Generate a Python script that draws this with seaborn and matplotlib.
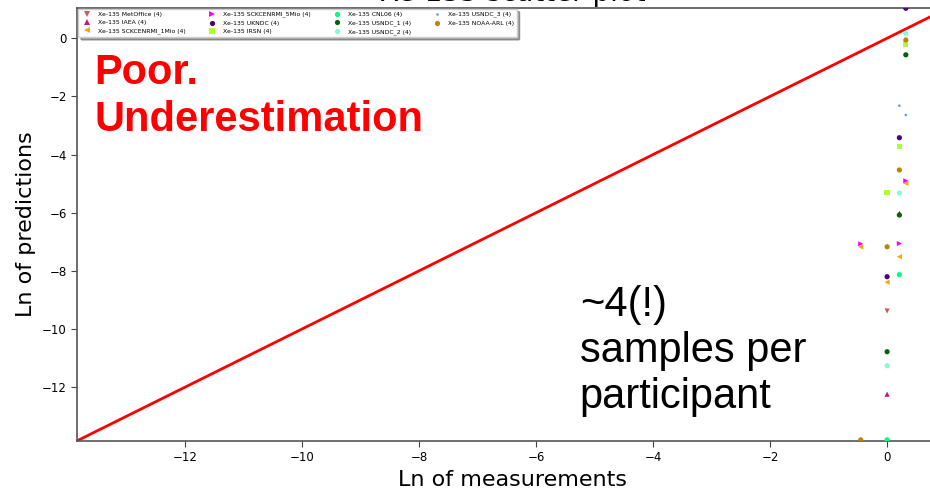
import numpy as np
import matplotlib
matplotlib.use('Agg')
import matplotlib.pyplot as plt
import pandas as pd
import seaborn as sns

# participants (legend order), marker and colour per participant
participants = ['Xe-135 MetOffice (4)', 'Xe-135 IAEA (4)', 'Xe-135 SCKCENRMI_1Mio (4)',
                'Xe-135 SCKCENRMI_5Mio (4)', 'Xe-135 UKNDC (4)', 'Xe-135 IRSN (4)',
                'Xe-135 CNL06 (4)', 'Xe-135 USNDC_1 (4)', 'Xe-135 USNDC_2 (4)',
                'Xe-135 USNDC_3 (4)', 'Xe-135 NOAA-ARL (4)']
markers = ['v', '^', '<', '>', 'o', 's', 'o', 'o', 'o', '.', 'o']
colors = ['indianred', 'mediumvioletred', 'orange', 'magenta', 'indigo', 'greenyellow',
          'springgreen', 'darkgreen', 'aquamarine', 'cornflowerblue', 'darkgoldenrod']

meas = [
    [0.0],
    [0.21, 0.0],
    [0.32, -0.45, 0.21, 0.0],
    [0.32, -0.45, 0.21],
    [0.32, 0.21, 0.0],
    [0.32, 0.21, 0.0],
    [0.21, 0.0],
    [0.32, 0.21, 0.0],
    [0.32, 0.21, 0.0],
    [0.21, 0.32],
    [0.32, 0.21, 0.0, -0.45],
]
pred = [
    [-9.38],
    [-6.02, -12.24],
    [-4.99, -7.18, -7.51, -8.39],
    [-4.90, -7.07, -7.06],
    [1.03, -3.42, -8.20],
    [-0.20, -3.73, -5.30],
    [-8.13, -13.81],
    [-0.57, -6.08, -10.78],
    [0.17, -5.32, -11.26],
    [-2.32, -2.64],
    [-0.06, -4.53, -7.17, -13.81],
]

lims = [-13.84, 1.04]

rows = []
for p, xs, ys in zip(participants, meas, pred):
    for x, y in zip(xs, ys):
        rows.append({'participant': p, 'meas': x, 'pred': y})
df = pd.DataFrame(rows)

fig = plt.figure(figsize=(9.30, 4.88), dpi=100)
# axes reach a little past the right edge, as in the cropped original
ax = fig.add_axes([0.0831, 0.0969, 0.9362, 0.8867])

sns.scatterplot(data=df, x='meas', y='pred', hue='participant', style='participant',
                hue_order=participants, style_order=participants,
                palette=dict(zip(participants, colors)),
                markers=dict(zip(participants, markers)),
                s=14, linewidth=0, ax=ax, zorder=3)

# y = x reference line
ax.plot(lims, lims, color='red', lw=2, zorder=2)

ax.set_xlim(lims)
ax.set_ylim(lims)
ax.set_xticks(np.arange(-12, 1, 2))
ax.set_yticks(np.arange(-12, 1, 2))
ax.tick_params(labelsize=8.5, length=4, color='#444444')
for s in ax.spines.values():
    s.set_color('#555555')
    s.set_linewidth(1.2)

ax.set_title('Xe-135 scatter plot', fontsize=20, pad=5.0)
ax.set_xlabel('Ln of measurements', fontsize=16)
ax.set_ylabel('Ln of predictions', fontsize=16)

leg = ax.legend(loc='upper left', bbox_to_anchor=(0.0, 1.0), ncol=4, fontsize=4.4,
                shadow=True, borderaxespad=0.15, columnspacing=3.3, handletextpad=0.8,
                markerscale=1.0, title=None)

ax.text(0.020, 0.895, 'Poor.\nUnderestimation', transform=ax.transAxes, color='red',
        fontsize=30, fontweight='bold', family='Liberation Sans', va='top', ha='left')
ax.text(0.577, 0.36, '~4(!)\nsamples per\nparticipant', transform=ax.transAxes,
        color='black', fontsize=30, family='Liberation Sans', va='top', ha='left')

plt.savefig('out.png', dpi=100)
